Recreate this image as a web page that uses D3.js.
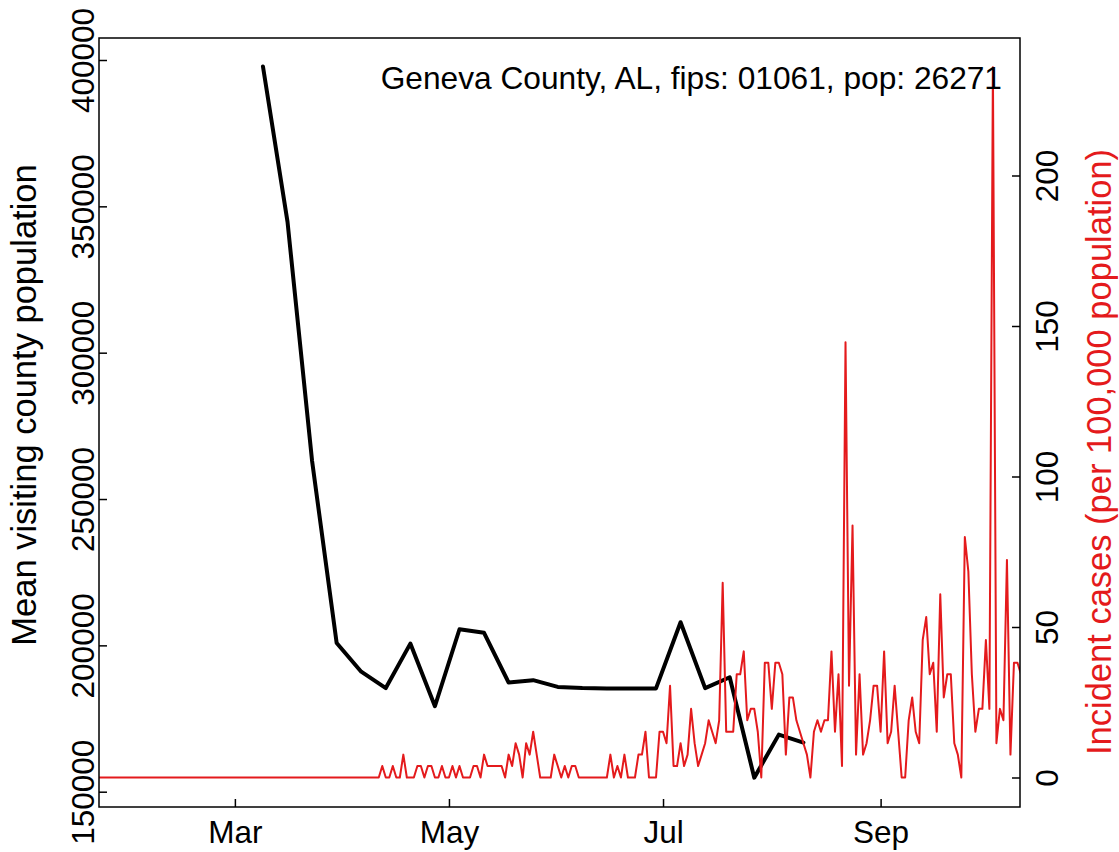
<!DOCTYPE html>
<html><head><meta charset="utf-8">
<script src="https://cdn.jsdelivr.net/npm/d3@7"></script>
<style>body{margin:0;background:#fff} text{font-family:"Liberation Sans",Arial,Helvetica,sans-serif}</style>
</head><body>
<svg id="chart" width="1119" height="852"></svg>
<script>
// ---- data ----
const mobilityDates = ["2020-03-09","2020-03-16","2020-03-23","2020-03-30","2020-04-06","2020-04-13","2020-04-20","2020-04-27",
  "2020-05-04","2020-05-11","2020-05-18","2020-05-25","2020-06-01","2020-06-08","2020-06-15","2020-06-22","2020-06-29",
  "2020-07-06","2020-07-13","2020-07-20","2020-07-27","2020-08-03","2020-08-10"];
const mobilityValues = [397800,344700,263000,200800,191000,185400,200600,179200,205500,204300,187300,188100,185800,
  185400,185300,185300,185300,207900,185400,189100,154800,169500,166800];
const caseStartDate = "2020-01-22";
const caseValues = [
  0,0,0,0,0,0,0,0,0,0, 0,0,0,0,0,0,0,0,0,0, 0,0,0,0,0,0,0,0,0,0, 0,0,0,0,0,0,0,0,0,0,
  0,0,0,0,0,0,0,0,0,0, 0,0,0,0,0,0,0,0,0,0, 0,0,0,0,0,0,0,0,0,0, 0,0,0,0,0,0,0,0,0,
  0,0,3.8,0,0,3.8,0,0,7.6,0,
  0,0,3.8,3.8,0,3.8,3.8,0,0,3.8,
  0,0,3.8,0,3.8,0,0,0,3.8,3.8,
  0,7.6,3.8,3.8,3.8,3.8,3.8,0,7.6,3.8,
  11.4,7.6,0,11.4,7.6,15.2,7.6,0,0,0,
  0,7.6,3.8,0,3.8,0,3.8,3.8,0,0,
  0,0,0,0,0,0,0,7.6,0,3.8,
  0,7.6,0,0,0,7.6,7.6,15.2,0,0,
  0,15.2,15.2,11.4,30.5,3.8,3.8,11.4,3.8,7.6,
  22.8,11.4,3.8,7.6,11.4,19.0,15.2,11.4,19.0,64.7,
  15.2,15.2,15.2,34.3,34.3,41.9,19.0,22.8,22.8,15.2,
  0,38.1,38.1,22.8,38.1,38.1,34.3,7.6,26.6,26.6,
  19.0,15.2,11.4,7.6,0,15.2,19.0,15.2,19.0,19.0,
  41.9,15.2,34.3,3.8,144.6,30.5,83.7,7.6,34.3,7.6,
  11.4,19.0,30.5,30.5,15.2,41.9,11.4,15.2,30.5,15.2,
  0,0,19.0,26.6,15.2,11.4,45.7,53.3,34.3,38.1,
  15.2,60.9,26.6,34.3,34.3,11.4,7.6,0,79.9,68.5,
  34.3,15.2,22.8,22.8,45.7,22.8,236.0,11.4,22.8,19.0,
  72.3,7.6,38.1,38.1,34.3
];
const xLimits = ["2020-02-01","2020-10-01"];
const xTickDates = ["2020-03-01","2020-05-01","2020-07-01","2020-09-01"];
const xTickLabels = ["Mar","May","Jul","Sep"];
const leftTicks = [150000,200000,250000,300000,350000,400000];
const rightTicks = [0,50,100,150,200];
const titleText = "Geneva County, AL, fips: 01061, pop: 26271";
const leftLabel = "Mean visiting county population";
const rightLabel = "Incident cases (per 100,000 population)";

// ---- layout ----
const box = {l: 99, r: 1020, t: 38, b: 807};
const FS = 31.5;      // tick labels
const FS_LAB = 34.5;  // axis titles
const FS_TITLE = 31.7;
const RED = "#e41a1c";
const FONT = '"Liberation Sans",Arial,sans-serif';

const parse = d3.utcParse("%Y-%m-%d");
const svg = d3.select("#chart");

const x0 = parse(xLimits[0]), x1 = parse(xLimits[1]);
const pad = (x1 - x0) * 0.04;
const x = d3.scaleUtc().domain([new Date(+x0 - pad), new Date(+x1 + pad)]).range([box.l, box.r]);
const yL = d3.scaleLinear().domain([150000, 400000]).range([791.7, 60]);
const yR = d3.scaleLinear().domain([0, 200]).range([777.5, 175.5]);

svg.append("defs").append("clipPath").attr("id","clip")
  .append("rect").attr("x",box.l).attr("y",box.t).attr("width",box.r-box.l).attr("height",box.b-box.t);

// black mobility line
const mob = mobilityDates.map((d,i)=>({d:parse(d), v:mobilityValues[i]}));
svg.append("path").datum(mob).attr("clip-path","url(#clip)")
  .attr("fill","none").attr("stroke","#000").attr("stroke-width",4)
  .attr("stroke-linejoin","round").attr("stroke-linecap","round")
  .attr("d", d3.line().x(p=>x(p.d)).y(p=>yL(p.v)));

// red case line
const cs = parse(caseStartDate);
const cases = caseValues.map((v,i)=>({d:d3.utcDay.offset(cs,i), v}));
svg.append("path").datum(cases).attr("clip-path","url(#clip)")
  .attr("fill","none").attr("stroke",RED).attr("stroke-width",2)
  .attr("stroke-linejoin","round").attr("stroke-linecap","round")
  .attr("d", d3.line().x(p=>x(p.d)).y(p=>yR(p.v)));

// box
svg.append("rect").attr("x",box.l).attr("y",box.t).attr("width",box.r-box.l).attr("height",box.b-box.t)
  .attr("fill","none").attr("stroke","#000").attr("stroke-width",1.5);

// bottom axis
const gx = svg.append("g").attr("transform",`translate(0,${box.b})`)
  .call(d3.axisBottom(x).tickValues(xTickDates.map(parse)).tickSize(-8)
        .tickFormat((d,i)=>xTickLabels[i]));
gx.select(".domain").remove();
gx.selectAll(".tick line").attr("stroke","#000").attr("stroke-width",1.5);
gx.selectAll(".tick text").attr("y",36).attr("dy",0).attr("font-size",FS).attr("fill","#000")
  .style("font-family",FONT);

// left axis
const gl = svg.append("g").attr("transform",`translate(${box.l},0)`)
  .call(d3.axisLeft(yL).tickValues(leftTicks).tickSize(-8).tickFormat(d3.format("d")));
gl.select(".domain").remove();
gl.selectAll(".tick line").attr("stroke","#000").attr("stroke-width",1.5);
gl.selectAll(".tick text").attr("x",null).attr("dy",0).attr("text-anchor","middle")
  .attr("transform","translate(-5,0) rotate(-90)").attr("font-size",FS).attr("fill","#000")
  .style("font-family",FONT);

// right axis
const gr = svg.append("g").attr("transform",`translate(${box.r},0)`)
  .call(d3.axisRight(yR).tickValues(rightTicks).tickSize(-8).tickFormat(d3.format("d")));
gr.select(".domain").remove();
gr.selectAll(".tick line").attr("stroke","#000").attr("stroke-width",1.5);
gr.selectAll(".tick text").attr("x",null).attr("dy",0).attr("text-anchor","middle")
  .attr("transform","translate(38,0) rotate(-90)").attr("font-size",FS).attr("fill","#000")
  .style("font-family",FONT);

// axis titles
svg.append("text").attr("transform",`translate(36,405) rotate(-90)`).attr("text-anchor","middle")
  .attr("font-size",FS_LAB).attr("fill","#000").style("font-family",FONT).text(leftLabel);
svg.append("text").attr("transform",`translate(1111,452) rotate(-90)`).attr("text-anchor","middle")
  .attr("font-size",FS_LAB).attr("fill",RED).style("font-family",FONT).text(rightLabel);

// annotation
svg.append("text").attr("x",1002).attr("y",89).attr("text-anchor","end")
  .attr("font-size",FS_TITLE).attr("fill","#000").style("font-family",FONT).text(titleText);
</script>
</body></html>
